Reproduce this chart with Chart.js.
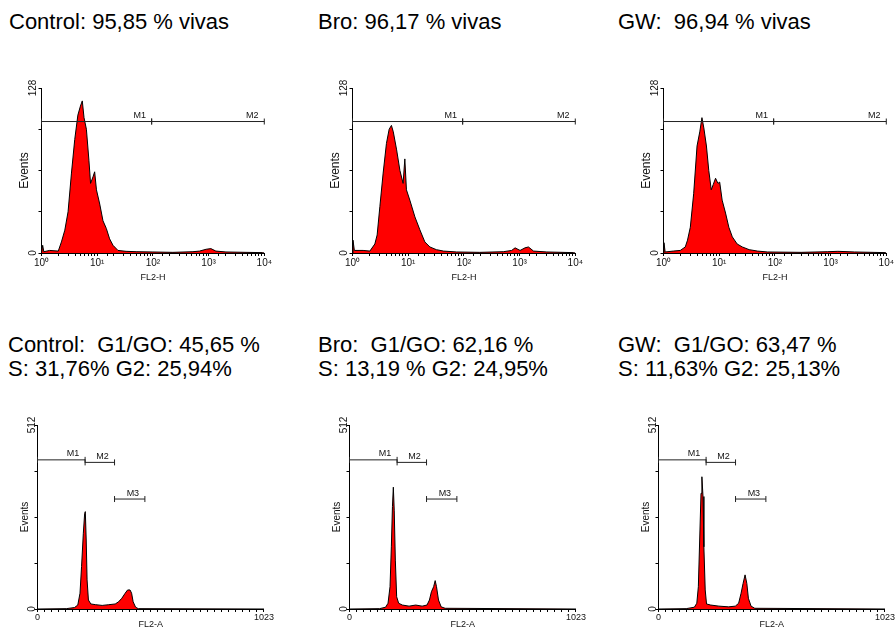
<!DOCTYPE html>
<html>
<head>
<meta charset="utf-8">
<script src="https://cdn.jsdelivr.net/npm/chart.js@4.4.1/dist/chart.umd.min.js"></script>
<style>
  body { margin: 0; background: #fff; }
  #page { position: relative; width: 895px; height: 630px; overflow: hidden; }
  .title { position: absolute; font-family: Arial, "Liberation Sans", sans-serif; font-size: 22px; color: #000; white-space: pre; }
  .row1 { top: 11px; line-height: 22px; }
  .row2 { top: 333px; line-height: 23.5px; }
  canvas { position: absolute; }
</style>
</head>
<body>
<div id="page">
  <div class="title row1" style="left:9px">Control: 95,85 % vivas</div>
  <div class="title row1" style="left:318px">Bro: 96,17 % vivas</div>
  <div class="title row1" style="left:618px">GW:  96,94 % vivas</div>

  <div class="title row2" style="left:8px">Control:  G1/GO: 45,65 %<br>S: 31,76% G2: 25,94%</div>
  <div class="title row2" style="left:318px">Bro:  G1/GO: 62,16 %<br>S: 13,19 % G2: 24,95%</div>
  <div class="title row2" style="left:618px">GW:  G1/GO: 63,47 %<br>S: 11,63% G2: 25,13%</div>

  <canvas id="viab-ctrl" width="273" height="235" style="left:0px; top:60px"></canvas>
  <canvas id="viab-bro" width="273" height="235" style="left:311px; top:60px"></canvas>
  <canvas id="viab-gw" width="273" height="235" style="left:622px; top:60px"></canvas>

  <canvas id="cycle-ctrl" width="274" height="230" style="left:0px; top:400px"></canvas>
  <canvas id="cycle-bro" width="274" height="230" style="left:312px; top:400px"></canvas>
  <canvas id="cycle-gw" width="274" height="230" style="left:621px; top:400px"></canvas>
</div>
<script>
// viabilidad, FL2-H (log) vs Events
const ctrlViabX = [1, 1.05, 1.1, 1.4, 2.0, 2.28, 2.62, 3.0, 3.45, 3.95, 4.5, 5.0, 5.4, 5.8, 6.4, 7.1, 7.6, 8.4, 9.0, 9.7, 11.1, 12.7, 14.6, 16.7, 19.2, 23.6, 33, 50, 100, 229, 523, 690, 903, 1100, 1350, 2050, 4700, 9300, 10000];
const ctrlViabY = [0, 6, 1, 2, 1.5, 8.6, 17.7, 32, 62, 88, 107, 114, 118, 105, 96, 72, 54, 59, 63, 49, 38, 25, 19, 11, 6, 2, 1.3, 1, 0.8, 0.5, 1, 1.5, 2.9, 3.4, 1.5, 0.8, 0.5, 0.3, 0];

const broViabX = [1, 1.02, 1.08, 1.55, 2.05, 2.52, 2.77, 3.1, 3.55, 4.07, 4.55, 5.0, 5.4, 6.2, 7.1, 8.1, 8.7, 9.3, 10.7, 13.2, 16.2, 19.9, 24.5, 32, 43, 74, 193, 510, 720, 830, 1020, 1250, 1440, 1780, 3080, 9200, 10000];
const broViabY = [0, 10, 2, 2, 1.5, 7, 14, 36, 62, 85, 96, 99, 94, 80, 64, 54, 73, 49, 41, 28, 18, 8.6, 4.7, 2.6, 1.5, 0.8, 0.5, 1, 2, 4, 2, 4, 4.7, 1.5, 0.8, 0.3, 0];

const gwViabX = [1, 1.02, 1.07, 1.5, 2.0, 2.46, 2.7, 3.03, 3.48, 4.0, 4.48, 4.9, 5.3, 5.9, 6.5, 7.2, 7.8, 8.6, 9.5, 10.2, 11.3, 13.0, 14.9, 17.2, 21, 26, 34.5, 48.6, 73.5, 295, 890, 1350, 2700, 9500, 10000];
const gwViabY = [0, 8, 0.8, 1.5, 2, 4.7, 10, 20, 46, 83, 94, 105, 97, 83, 64, 49, 53, 58, 54, 55, 41, 31, 20, 12.5, 7, 4.7, 2.6, 1.5, 0.8, 0.5, 1, 1.3, 0.8, 0.3, 0];

// ciclo celular, FL2-A (0-1023) vs Events
const ctrlCycleX = [0, 130, 167, 182, 192, 199, 207, 213, 216, 220, 224, 230, 241, 263, 292, 322, 351, 366, 381, 396, 407, 418, 425, 432, 443, 455, 1023];
const ctrlCycleY = [0, 1, 4, 11, 44, 118, 211, 266, 271, 192, 81, 25, 14, 12, 10, 12, 14, 20, 30, 44, 53, 53, 44, 20, 5, 1, 0];

const broCycleX = [0, 136, 163, 174, 183, 189, 194, 198, 202, 207, 213, 222, 239, 269, 299, 328, 350, 361, 370, 380, 387, 393, 402, 414, 432, 1023];
const broCycleY = [0, 1, 5, 16, 62, 173, 285, 339, 275, 136, 34, 16, 11, 8, 11, 8, 11, 25, 48, 62, 79, 62, 25, 6, 2, 0];

const gwCycleX = [0, 125, 162, 173, 180, 186, 192, 196, 201, 205, 211, 217, 236, 273, 317, 347, 362, 373, 382, 391, 399, 406, 418, 435, 1023];
const gwCycleY = [0, 1, 5, 16, 62, 192, 322, 368, 313, 173, 53, 14, 11, 8, 6, 8, 16, 44, 71, 95, 71, 30, 8, 2, 0];

// tick labels
const viabTickLabels = ['10⁰', '10¹', '10²', '10³', '10⁴'];
const viabYLabels = [0, 128];
const cycleTickLabels = [0, 1023];
const cycleYLabels = [0, 512];

// markers M1/M2/M3
const viabGates = ['M1', 'M2'];
const viabGateX = [[1, 95], [95, 10000]];
const viabGateY = [102, 102];
const cycleGates = ['M1', 'M2', 'M3'];
const cycleGateX = [[0, 215], [215, 348], [348, 485]];
const cycleGateY = [415, 408, 306];

Chart.defaults.font.family = 'Arial, "Liberation Sans", sans-serif';
Chart.defaults.color = '#111';
Chart.defaults.animation = false;

// draws M1, M2... just left of the end of each marker
const gateLabels = {
    id: 'gateLabels',
    afterDatasetsDraw(chart, args, opts) {
        const ctx = chart.ctx;
        const xs = chart.scales.x;
        const ys = chart.scales.y;
        ctx.save();
        ctx.font = opts.size + 'px Arial, "Liberation Sans", sans-serif';
        ctx.fillStyle = '#111';
        ctx.textAlign = 'center';
        ctx.textBaseline = 'alphabetic';
        opts.names.forEach((name, i) => {
            const px = xs.getPixelForValue(opts.ranges[i][1]) - 12;
            const py = ys.getPixelForValue(opts.levels[i]) - 3.5;
            ctx.fillText(name, px, py);
        });
        ctx.restore();
    }
};

function drawHisto(id, xs, ys, log) {
    const names = log ? viabGates : cycleGates;
    const ranges = log ? viabGateX : cycleGateX;
    const levels = log ? viabGateY : cycleGateY;

    const gateSets = names.map((n, i) => ({
        label: n,
        data: [{x: ranges[i][0], y: levels[i]}, {x: ranges[i][1], y: levels[i]}],
        borderColor: '#222',
        borderWidth: 1,
        fill: false,
        pointStyle: 'line',
        pointRotation: 90,
        pointRadius: 3,
        pointBorderColor: '#222',
        pointBorderWidth: 1,
        clip: false,
        order: 0
    }));

    const histo = {
        label: 'Events',
        data: xs.map((x, i) => ({x: x, y: ys[i]})),
        borderColor: '#000',
        borderWidth: 1,
        backgroundColor: '#ff0000',
        fill: 'origin',
        pointRadius: 0,
        tension: 0,
        order: 1
    };

    const axisGrid = {drawOnChartArea: false, tickLength: 3, color: '#000', lineWidth: 1};
    const axisBorder = {color: '#000', width: 1};

    let xScale, yScale, pad;
    if (log) {
        pad = {left: 14, right: 8.5, top: 28, bottom: 0};
        xScale = {
            type: 'logarithmic', min: 1, max: 10000,
            border: axisBorder, grid: axisGrid,
            ticks: {
                autoSkip: false, maxRotation: 0, padding: 1, font: {size: 10},
                callback: (v) => {
                    const d = Math.round(Math.log10(v));
                    return Math.abs(v - Math.pow(10, d)) < 1e-6 ? viabTickLabels[d] : '';
                }
            },
            title: {display: true, text: 'FL2-H', font: {size: 9}, padding: {top: 0, bottom: 12.5}},
            afterFit: (s) => { s.height = 42; }
        };
        yScale = {
            min: 0, max: 128,
            border: axisBorder, grid: axisGrid,
            ticks: {
                stepSize: 32, minRotation: 90, maxRotation: 90, crossAlign: 'center', padding: -3,
                font: {size: 10},
                callback: (v) => viabYLabels.includes(v) ? String(v) : ''
            },
            title: {display: true, text: 'Events', font: {size: 12}, padding: {top: 3.5, bottom: 0}},
            afterFit: (s) => { s.width = 27.5; }
        };
    } else {
        pad = {left: 14, right: 5.5, top: 25, bottom: 0};
        xScale = {
            type: 'linear', min: 0, max: 1023,
            border: axisBorder, grid: axisGrid,
            ticks: {
                autoSkip: false, maxRotation: 0, padding: 0, stepSize: 32, font: {size: 9},
                callback: (v) => cycleTickLabels.includes(v) ? String(v) : ''
            },
            title: {display: true, text: 'FL2-A', font: {size: 9}, padding: {top: 0, bottom: 0}},
            afterFit: (s) => { s.height = 21; }
        };
        yScale = {
            min: 0, max: 512,
            border: axisBorder, grid: axisGrid,
            ticks: {
                stepSize: 128, minRotation: 90, maxRotation: 90, crossAlign: 'center', padding: -6,
                font: {size: 10},
                callback: (v) => cycleYLabels.includes(v) ? String(v) : ''
            },
            title: {display: true, text: 'Events', font: {size: 10}, padding: {top: 5, bottom: 0}},
            afterFit: (s) => { s.width = 23.5; }
        };
    }

    return new Chart(document.getElementById(id), {
        type: 'line',
        data: {datasets: gateSets.concat([histo])},
        options: {
            responsive: false,
            devicePixelRatio: 1,
            layout: {padding: pad},
            scales: {x: xScale, y: yScale},
            plugins: {
                legend: {display: false},
                tooltip: {enabled: false},
                gateLabels: {names: names, ranges: ranges, levels: levels, size: 9}
            }
        },
        plugins: [gateLabels]
    });
}

drawHisto('viab-ctrl', ctrlViabX, ctrlViabY, true);
drawHisto('viab-bro', broViabX, broViabY, true);
drawHisto('viab-gw', gwViabX, gwViabY, true);
drawHisto('cycle-ctrl', ctrlCycleX, ctrlCycleY, false);
drawHisto('cycle-bro', broCycleX, broCycleY, false);
drawHisto('cycle-gw', gwCycleX, gwCycleY, false);
</script>
</body>
</html>
